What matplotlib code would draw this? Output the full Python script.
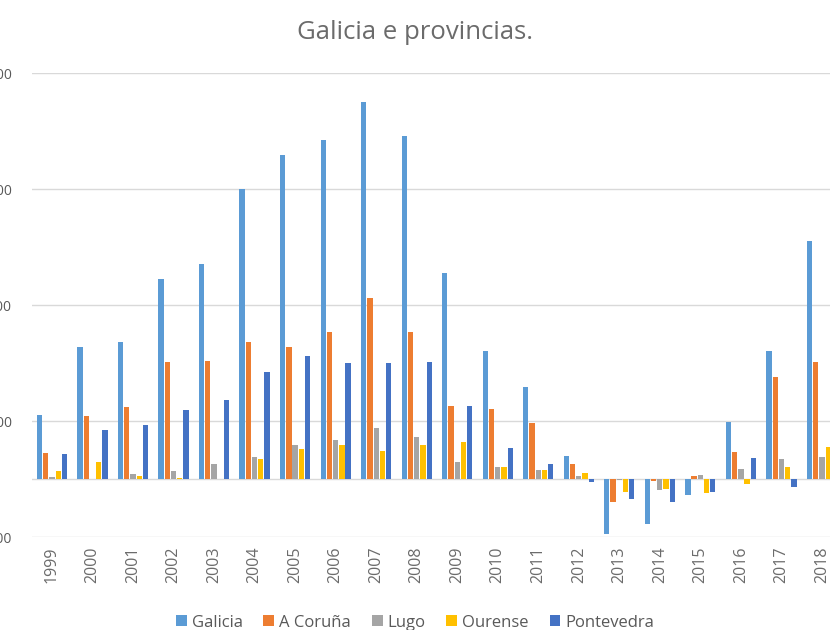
import numpy as np
import matplotlib
matplotlib.use("Agg")
import matplotlib.pyplot as plt

years = [str(y) for y in range(1999, 2019)]
series_names = ["Galicia", "A Coruña", "Lugo", "Ourense", "Pontevedra"]

galicia = [550, 1140, 1180, 1720, 1850, 2500, 2790, 2920, 3250, 2960,
           1780, 1100, 790, 200, -470, -390, -140, 490, 1100, 2050]
a_coruna = [220, 545, 620, 1010, 1020, 1180, 1140, 1270, 1560, 1270,
            630, 600, 480, 130, -195, -20, 25, 235, 880, 1010]
lugo = [20, 0, 40, 70, 130, 190, 290, 340, 440, 360,
        150, 100, 80, 30, -10, -95, 35, 85, 170, 190]
ourense = [70, 150, 30, 10, 0, 170, 260, 290, 240, 290,
           320, 100, 80, 50, -110, -90, -120, -40, 100, 280]
pontevedra = [215, 420, 465, 595, 680, 920, 1060, 1000, 1000, 1010,
              630, 270, 130, -30, -170, -200, -110, 180, -65, 1000]

yticks = [-500, 500, 1500, 2500, 3500]
colors = ["#5B9BD5", "#ED7D31", "#A5A5A5", "#FFC000", "#4472C4"]

plt.rcParams['font.family'] = ['Open Sans', 'DejaVu Sans']

fig = plt.figure(figsize=(8.3, 6.3), dpi=100)
# the plot runs past the right edge, as in the cropped original
ax = fig.add_axes([0.0382, 0.1476, 0.9765, 0.7365])

x = np.arange(len(years))
step = 1 / 6.5
data = [galicia, a_coruna, lugo, ourense, pontevedra]
for i, (name, vals) in enumerate(zip(series_names, data)):
    ax.bar(x + (i - 2) * step, vals, width=step * 0.85, color=colors[i],
           label=name, zorder=3)

ax.set_xlim(-0.5, len(years) - 0.5)
ax.set_ylim(-500, 3500)
ax.set_yticks(yticks)
ax.set_yticklabels([str(v) for v in yticks])
ax.axhline(0, color="#D9D9D9", lw=1, zorder=2)
ax.grid(axis="y", color="#D9D9D9", lw=1, zorder=0)
for s in ax.spines.values():
    s.set_visible(False)
ax.tick_params(axis="y", length=0, pad=14, labelsize=10, labelcolor="#595959")
ax.set_xticks(x)
ax.set_xticklabels(years, rotation=90)
ax.tick_params(axis="x", length=0, pad=7, labelsize=11.5, labelcolor="#6b6b6b")

fig.text(0.5, 0.949, "Galicia e provincias.", ha="center", va="center",
         fontsize=18.5, color="#6b6b6b")

ax.legend(loc="center", bbox_to_anchor=(0.5, 0.0118), bbox_transform=fig.transFigure,
          ncol=5, frameon=False, fontsize=12, labelcolor="#595959",
          handlelength=0.65, handleheight=0.65, handletextpad=0.3, columnspacing=1.25)

fig.savefig("out.png", dpi=100)
